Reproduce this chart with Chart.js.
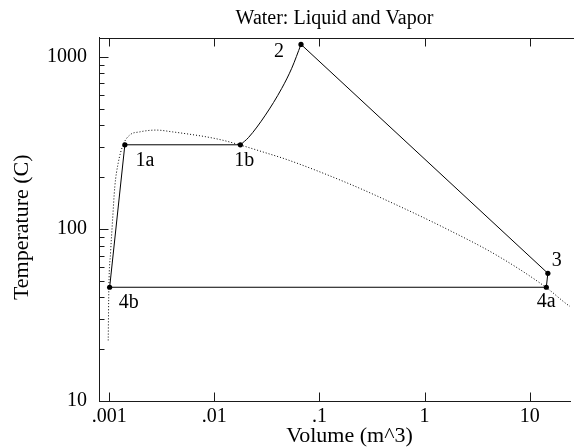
<!DOCTYPE html>
<html>
<head>
<meta charset="utf-8">
<title>Water: Liquid and Vapor</title>
<script src="https://cdn.jsdelivr.net/npm/chart.js@4/dist/chart.umd.min.js"></script>
<style>
  html, body { margin: 0; padding: 0; background: #fff; }
  #chart { display: block; }
</style>
</head>
<body>
<canvas id="chart" width="574" height="448"></canvas>
<script>
// state points of the cycle
var stateNames = ['4b', '1a', '1b', '2', '3', '4a'];
var stateVolume = [0.00101, 0.00141, 0.0177, 0.0668, 14.9, 14.4];
var stateTemp = [45.8, 308, 308, 1180, 55.2, 45.8];

// superheating curve 1b -> 2
var heatVolume = [0.0177, 0.0212, 0.0306, 0.0438, 0.0545, 0.0668];
var heatTemp = [308, 340, 458, 655, 857, 1180];

// saturation dome (dotted)
var domeVolume = [0.000979, 0.000993, 0.00103, 0.001077, 0.00113, 0.001216, 0.001355, 0.00157,
  0.00195, 0.0028, 0.00402, 0.00577, 0.0083, 0.0119, 0.0177, 0.0284, 0.0507, 0.187, 0.552,
  1.64, 4.85, 14.4, 22.2, 27.5];
var domeTemp = [22.5, 45.8, 72.3, 112.5, 175, 240, 307, 351, 366, 375, 366, 355, 343, 328,
  307, 281, 251, 184, 137, 99.6, 70.3, 45.6, 36.8, 33.6];

// axes
var xMin = 0.0008, xMax = 24.2;
var yMin = 10, yMax = 1294;
var xTickValues = [0.001, 0.01, 0.1, 1, 10];
var xTickLabels = ['.001', '.01', '.1', '1', '10'];
var yTickValues = [10, 100, 1000];
var yTickLabels = ['10', '100', '1000'];
var yMinorTicks = [20, 30, 40, 50, 60, 70, 80, 90, 200, 300, 400, 500, 600, 700, 800, 900];
var xTitle = 'Volume (m^3)';
var yTitle = 'Temperature (C)';

var FONT = 'Liberation Serif';
var INK = '#000';
var AXIS = '#1a1a1a';

function pts(xs, ys) {
  return xs.map(function (x, i) { return { x: x, y: ys[i] }; });
}

// straight legs: 2 -> 3 -> 4a -> 4b -> 1a -> 1b
var legOrder = [3, 4, 5, 0, 1, 2];
var legPoints = legOrder.map(function (i) { return { x: stateVolume[i], y: stateTemp[i] }; });

function labelFor(values, labels) {
  return function (value) {
    for (var i = 0; i < values.length; i++) {
      if (Math.abs(Math.log10(value) - Math.log10(values[i])) < 1e-6) return labels[i];
    }
    return '';
  };
}

function tickLine(ctx, x1, y1, x2, y2) {
  ctx.beginPath();
  ctx.moveTo(x1, y1);
  ctx.lineTo(x2, y2);
  ctx.stroke();
}

// frame top line, inward tick marks, axis titles and the state labels
var decorations = {
  id: 'decorations',
  afterDatasetsDraw: function (chart) {
    var ctx = chart.ctx;
    var area = chart.chartArea;
    var xs = chart.scales.x;
    var ys = chart.scales.y;
    var top = Math.round(area.top) + 0.5;
    var bottom = Math.round(area.bottom) + 0.5;
    var left = Math.round(area.left) + 0.5;

    ctx.save();
    ctx.setLineDash([]);
    ctx.strokeStyle = AXIS;
    ctx.lineWidth = 1;
    tickLine(ctx, left, top, chart.width, top);
    xTickValues.forEach(function (v) {
      var px = Math.round(xs.getPixelForValue(v)) + 0.5;
      tickLine(ctx, px, bottom, px, bottom - 9);
      tickLine(ctx, px, top, px, top + 8);
    });
    yTickValues.forEach(function (v) {
      var py = Math.round(ys.getPixelForValue(v)) + 0.5;
      tickLine(ctx, left, py, left + 9, py);
    });
    yMinorTicks.forEach(function (v) {
      var py = Math.round(ys.getPixelForValue(v)) + 0.5;
      tickLine(ctx, left, py, left + 5, py);
    });

    ctx.fillStyle = INK;
    ctx.textAlign = 'center';
    ctx.textBaseline = 'middle';

    // axis titles
    ctx.font = '22px "' + FONT + '"';
    ctx.fillText(xTitle, (area.left + area.right) / 2 + 15, 436);
    ctx.save();
    ctx.translate(22, (area.top + area.bottom) / 2 + 8);
    ctx.rotate(-Math.PI / 2);
    ctx.fillText(yTitle, 0, 0);
    ctx.restore();

    // text offset of each state label from its dot (4b,1a,1b,2,3,4a)
    var offsets = [[19, 15], [20, 16], [4, 16], [-22, 7], [9, -13], [0, 14]];
    var meta = chart.getDatasetMeta(3);
    ctx.font = '20px "' + FONT + '"';
    meta.data.forEach(function (pt, i) {
      ctx.fillText(stateNames[i], pt.x + offsets[i][0], pt.y + offsets[i][1]);
    });
    ctx.restore();
  }
};

Chart.defaults.font.family = FONT;
Chart.defaults.font.size = 20;
Chart.defaults.color = INK;

var chart = new Chart(document.getElementById('chart'), {
  type: 'line',
  data: {
    datasets: [{
      label: 'dome',
      data: pts(domeVolume, domeTemp),
      borderColor: INK,
      borderWidth: 1,
      borderDash: [1, 2],
      pointRadius: 0,
      cubicInterpolationMode: 'monotone',
      tension: 0.4
    }, {
      label: 'legs',
      data: legPoints,
      borderColor: INK,
      borderWidth: 1,
      pointRadius: 0,
      tension: 0
    }, {
      label: 'heating',
      data: pts(heatVolume, heatTemp),
      borderColor: INK,
      borderWidth: 1,
      pointRadius: 0,
      cubicInterpolationMode: 'monotone',
      tension: 0.4
    }, {
      label: 'states',
      data: pts(stateVolume, stateTemp),
      showLine: false,
      pointRadius: 2.6,
      pointBackgroundColor: INK,
      pointBorderColor: INK,
      pointBorderWidth: 0
    }]
  },
  options: {
    responsive: false,
    animation: false,
    events: [],
    layout: { padding: 0 },
    plugins: {
      legend: { display: false },
      tooltip: { enabled: false },
      title: {
        display: true,
        text: 'Water: Liquid and Vapor',
        fullSize: false,
        color: INK,
        font: { family: FONT, size: 20, weight: 'normal' },
        padding: { top: 7, bottom: 6.5 }
      }
    },
    scales: {
      x: {
        type: 'logarithmic',
        position: 'bottom',
        min: xMin,
        max: xMax,
        afterBuildTicks: function (s) { s.ticks = xTickValues.map(function (v) { return { value: v }; }); },
        afterFit: function (s) { s.height = 47; },
        ticks: { autoSkip: false, maxRotation: 0, padding: 4, callback: labelFor(xTickValues, xTickLabels) },
        grid: { display: false, drawTicks: false },
        border: { color: AXIS, width: 1 }
      },
      y: {
        type: 'logarithmic',
        position: 'left',
        min: yMin,
        max: yMax,
        afterBuildTicks: function (s) { s.ticks = yTickValues.map(function (v) { return { value: v }; }); },
        afterFit: function (s) { s.width = 99; },
        ticks: { autoSkip: false, padding: 12, callback: labelFor(yTickValues, yTickLabels) },
        grid: { display: false, drawTicks: false },
        border: { color: AXIS, width: 1 }
      }
    }
  },
  plugins: [decorations]
});
</script>
</body>
</html>
